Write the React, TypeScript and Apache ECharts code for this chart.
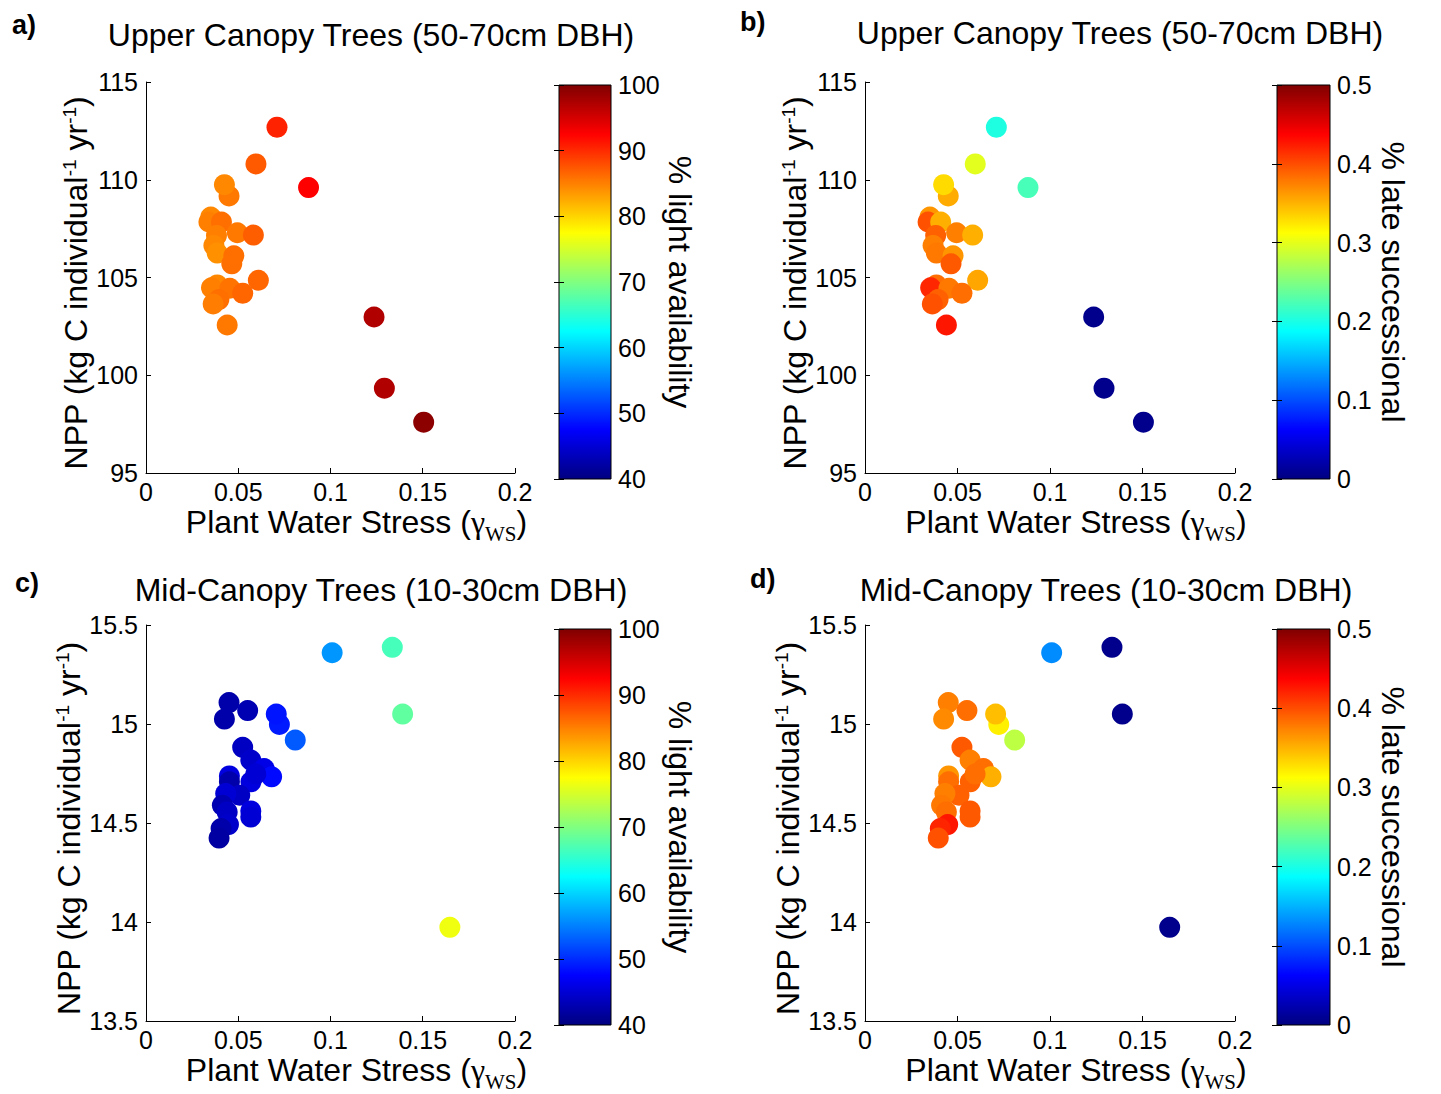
import React, { useEffect, useRef } from "react";
import * as echarts from "echarts";

// ---------- Data ----------
// Upper canopy trees (panels a, b)
const upperX = [0.0710, 0.0596, 0.0881, 0.0450, 0.0425, 0.0351, 0.0341, 0.0409, 0.0382, 0.0495, 0.0582, 0.0368, 0.0386, 0.0476, 0.0465, 0.0609, 0.0386, 0.0355, 0.0454, 0.0524, 0.0395, 0.0364, 0.0440, 0.1236, 0.1292, 0.1505];
const upperY = [112.69, 110.81, 109.60, 109.17, 109.75, 108.09, 107.84, 107.84, 107.15, 107.29, 107.17, 106.64, 106.25, 106.11, 105.70, 104.86, 104.62, 104.47, 104.45, 104.20, 103.87, 103.65, 102.57, 102.98, 99.34, 97.60];
const upperLight = [90.5, 87.2, 92.5, 85.4, 84.5, 84.5, 85.0, 86.0, 85.0, 85.4, 87.0, 84.5, 84.0, 86.0, 86.0, 86.5, 84.5, 85.0, 85.7, 86.5, 86.0, 85.2, 85.4, 97.1, 97.1, 99.3];
const upperLate = [0.202, 0.298, 0.222, 0.354, 0.330, 0.364, 0.398, 0.352, 0.390, 0.375, 0.352, 0.375, 0.379, 0.364, 0.394, 0.356, 0.384, 0.419, 0.379, 0.384, 0.390, 0.398, 0.427, 0.006, 0.006, 0.006];

// Mid-canopy trees (panels c, d)
const midX = [0.1009, 0.1335, 0.1391, 0.1647, 0.0450, 0.0425, 0.0551, 0.0723, 0.0706, 0.0809, 0.0524, 0.0568, 0.0640, 0.0681, 0.0452, 0.0452, 0.0569, 0.0595, 0.0508, 0.0432, 0.0414, 0.0440, 0.0568, 0.0568, 0.0447, 0.0407, 0.0396];
const midY = [15.360, 15.387, 15.050, 13.973, 15.108, 15.025, 15.068, 14.998, 15.050, 14.919, 14.882, 14.818, 14.775, 14.733, 14.738, 14.708, 14.708, 14.747, 14.640, 14.649, 14.590, 14.556, 14.561, 14.530, 14.492, 14.472, 14.424];
const midLight = [56.3, 66.6, 68.1, 76.6, 42.5, 42.5, 43.0, 49.0, 48.7, 52.8, 43.9, 44.4, 46.0, 48.0, 45.6, 42.5, 45.6, 45.0, 44.0, 45.0, 43.0, 44.0, 45.6, 45.0, 44.4, 42.5, 42.0];
const midLate = [0.131, 0.006, 0.006, 0.006, 0.375, 0.370, 0.384, 0.320, 0.344, 0.280, 0.394, 0.375, 0.384, 0.352, 0.364, 0.384, 0.390, 0.384, 0.390, 0.375, 0.379, 0.384, 0.394, 0.394, 0.427, 0.420, 0.398];

// Axis / colour-bar ranges
const xRange = [0, 0.2, 0.05];
const upperYRange = [95, 115, 5];
const midYRange = [13.5, 15.5, 0.5];
const lightRange = [40, 100, 10];
const lateRange = [0, 0.5, 0.1];

const titles = [
  "Upper Canopy Trees (50-70cm DBH)",
  "Upper Canopy Trees (50-70cm DBH)",
  "Mid-Canopy Trees (10-30cm DBH)",
  "Mid-Canopy Trees (10-30cm DBH)",
];
const letters = ["a)", "b)", "c)", "d)"];
const cbNames = ["% light availability", "% late successional", "% light availability", "% late successional"];

// ---------- Style ----------
const FONT = "'Liberation Sans', Arial, Helvetica, sans-serif";
const SERIF = "'Liberation Serif', 'Times New Roman', serif";
const JET = ["#000080", "#0000ff", "#0080ff", "#00ffff", "#80ff80", "#ffff00", "#ff8000", "#ff0000", "#800000"];

const panels = [
  { grid: { left: 146, top: 82, width: 369, height: 391 }, cb: { left: 559, top: 85, width: 52, height: 394 }, xs: upperX, ys: upperY, cs: upperLight, yr: upperYRange, cr: lightRange },
  { grid: { left: 865, top: 82, width: 370, height: 391 }, cb: { left: 1277, top: 85, width: 53, height: 394 }, xs: upperX, ys: upperY, cs: upperLate, yr: upperYRange, cr: lateRange },
  { grid: { left: 146, top: 625, width: 369, height: 396 }, cb: { left: 559, top: 629, width: 52, height: 396 }, xs: midX, ys: midY, cs: midLight, yr: midYRange, cr: lightRange },
  { grid: { left: 865, top: 625, width: 370, height: 396 }, cb: { left: 1277, top: 629, width: 53, height: 396 }, xs: midX, ys: midY, cs: midLate, yr: midYRange, cr: lateRange },
];
const titlePos = [[371, 35], [1120, 33], [381, 590], [1106, 590]];
const letterPos = [[12, 25], [740, 22], [15, 583], [750, 579]];

export default function App() {
  const ref = useRef<HTMLDivElement>(null);
  useEffect(() => {
    if (!ref.current) return;
    const chart = echarts.init(ref.current, null, { renderer: "svg" });
    const grid: any[] = [];
    const xAxis: any[] = [];
    const yAxis: any[] = [];
    const series: any[] = [];
    const visualMap: any[] = [];

    const gradStops = JET.map((c, i) => ({ offset: i / (JET.length - 1), color: c }));

    panels.forEach((p) => {
      grid.push({ ...p.grid, containLabel: false });
    });
    panels.forEach((p) => {
      grid.push({ ...p.cb, containLabel: false });
    });

    panels.forEach((p, i) => {
      xAxis.push({
        type: "value",
        gridIndex: i,
        min: xRange[0],
        max: xRange[1],
        interval: xRange[2],
        position: "bottom",
        name: "{t|Plant Water Stress (}{g|\u03b3}{w|WS}{t|)}",
        nameLocation: "middle",
        nameGap: 33,
        nameTextStyle: {
          padding: [0, 0, 0, 52],
          rich: {
            t: { fontSize: 32, fontFamily: FONT, color: "#000", verticalAlign: "top", padding: [0, 0, 6, 0] },
            g: { fontSize: 32, fontFamily: SERIF, color: "#000", verticalAlign: "top", padding: [0, 0, 6, 0] },
            w: { fontSize: 21, fontFamily: SERIF, color: "#000", verticalAlign: "bottom" },
          },
        },
        axisLine: { show: true, onZero: false, lineStyle: { color: "#000", width: 1 } },
        axisTick: { show: true, inside: true, length: 5, lineStyle: { color: "#000" } },
        axisLabel: { fontSize: 25, fontFamily: FONT, color: "#000", margin: 6 },
        splitLine: { show: false },
      });
      yAxis.push({
        type: "value",
        gridIndex: i,
        min: p.yr[0],
        max: p.yr[1],
        interval: p.yr[2],
        position: "left",
        name: "{t|NPP (kg C individual}{s|-1}{t| yr}{s|-1}{t|)}",
        nameLocation: "middle",
        nameRotate: 90,
        nameGap: 46,
        nameTextStyle: {
          padding: [0, 11, 0, 0],
          rich: {
            t: { fontSize: 32, fontFamily: FONT, color: "#000", verticalAlign: "bottom" },
            s: { fontSize: 19, fontFamily: FONT, color: "#000", verticalAlign: "top" },
          },
        },
        axisLine: { show: true, onZero: false, lineStyle: { color: "#000", width: 1 } },
        axisTick: { show: true, inside: true, length: 5, lineStyle: { color: "#000" } },
        axisLabel: { fontSize: 25, fontFamily: FONT, color: "#000", margin: 8 },
        splitLine: { show: false },
      });
    });

    panels.forEach((p, i) => {
      xAxis.push({ type: "value", gridIndex: 4 + i, min: 0, max: 1, show: false });
      yAxis.push({
        type: "value",
        gridIndex: 4 + i,
        min: p.cr[0],
        max: p.cr[1],
        interval: p.cr[2],
        position: "right",
        z: 10,
        name: cbNames[i],
        nameLocation: "middle",
        nameRotate: -90,
        nameGap: 47,
        nameTextStyle: { fontSize: 32, fontFamily: FONT, color: "#000" },
        axisLine: { show: false },
        axisTick: { show: true, inside: true, length: 5, lineStyle: { color: "#000" } },
        axisLabel: { fontSize: 25, fontFamily: FONT, color: "#000", margin: 7 },
        splitLine: { show: false },
      });
    });
    panels.forEach((p, i) => {
      yAxis.push({
        type: "value",
        gridIndex: 4 + i,
        min: p.cr[0],
        max: p.cr[1],
        interval: p.cr[2],
        position: "left",
        z: 10,
        axisLine: { show: false },
        axisTick: { show: true, inside: true, length: 5, lineStyle: { color: "#000" } },
        axisLabel: { show: false },
        splitLine: { show: false },
      });
    });

    panels.forEach((p, i) => {
      series.push({
        type: "scatter",
        xAxisIndex: i,
        yAxisIndex: i,
        symbol: "circle",
        symbolSize: 21,
        itemStyle: { opacity: 1 },
        data: p.xs.map((x, k) => [x, p.ys[k], p.cs[k]]),
      });
      visualMap.push({
        type: "continuous",
        show: false,
        seriesIndex: i,
        dimension: 2,
        min: p.cr[0],
        max: p.cr[1],
        inRange: { color: JET },
      });
    });

    panels.forEach((p, i) => {
      series.push({
        type: "custom",
        xAxisIndex: 4 + i,
        yAxisIndex: 4 + i,
        z: 1,
        silent: true,
        encode: { x: [0, 2], y: [1, 3] },
        data: [[0, p.cr[0], 1, p.cr[1]]],
        renderItem: (params: any, api: any) => {
          const a = api.coord([api.value(0), api.value(1)]);
          const b = api.coord([api.value(2), api.value(3)]);
          return {
            type: "rect",
            shape: { x: a[0], y: b[1], width: b[0] - a[0], height: a[1] - b[1] },
            style: {
              fill: new echarts.graphic.LinearGradient(0, 1, 0, 0, gradStops),
              stroke: "#000",
              lineWidth: 1,
            },
          };
        },
      });
    });

    const graphic: any[] = [];
    titles.forEach((t, i) => {
      graphic.push({
        type: "text",
        x: titlePos[i][0],
        y: titlePos[i][1],
        style: { text: t, fontSize: 32, fontFamily: FONT, fill: "#000", align: "center", verticalAlign: "middle" },
      });
    });
    letters.forEach((t, i) => {
      graphic.push({
        type: "text",
        x: letterPos[i][0],
        y: letterPos[i][1],
        style: { text: t, fontSize: 27, fontWeight: "bold", fontFamily: FONT, fill: "#000", align: "left", verticalAlign: "middle" },
      });
    });

    chart.setOption({
      animation: false,
      backgroundColor: "#fff",
      grid,
      xAxis,
      yAxis,
      visualMap,
      series,
      graphic,
    });
    return () => chart.dispose();
  }, []);
  return (
    <div
      ref={ref}
      style={{ position: "fixed", left: 0, top: 0, width: 1441, height: 1094, background: "#fff" }}
    />
  );
}
